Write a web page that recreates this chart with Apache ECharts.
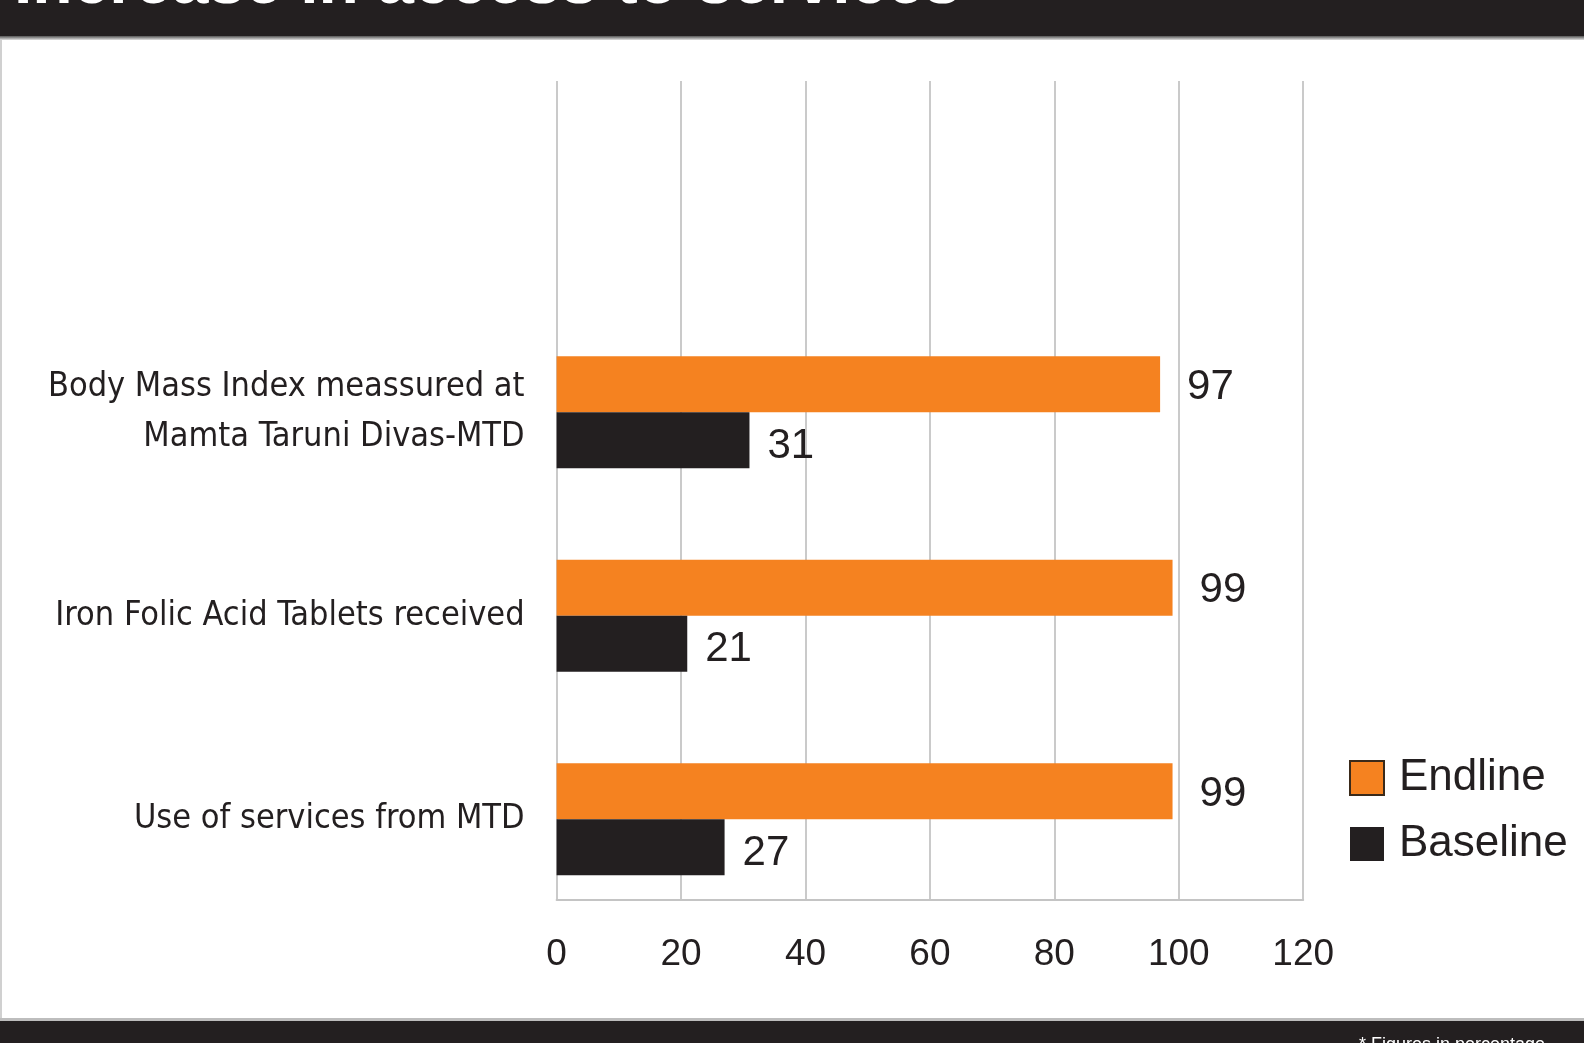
<!DOCTYPE html>
<html>
<head>
<meta charset="utf-8">
<script src="https://cdn.jsdelivr.net/npm/echarts@6/dist/echarts.min.js"></script>
<style>
html,body{margin:0;padding:0;background:#fff;}
#chart{width:1584px;height:1043px;}
</style>
</head>
<body>
<div id="chart"></div>
<script>
const categories = ['Body Mass Index meassured at\nMamta Taruni Divas-MTD', 'Iron Folic Acid Tablets received', 'Use of services from MTD'];
const endline = [97, 99, 99];
const baseline = [31, 21, 27];
const xTicks = { min: 0, max: 120, interval: 20 };
const titleText = 'Increase in access to services';
const noteText = '* Figures in percentage';

const DARK = '#231f20';
const ORANGE = '#f58220';
const narrow = "'Liberation Sans Narrow', 'DejaVu Sans Condensed', 'Arial Narrow', sans-serif";
const sans = "'Liberation Sans', Arial, Helvetica, sans-serif";

const chart = echarts.init(document.getElementById('chart'), null, { renderer: 'canvas' });
const gridL = 556.6, gridR = 1584 - 1303.2;

chart.setOption({
  backgroundColor: '#ffffff',
  animation: false,
  grid: [
    { left: gridL, right: gridR, top: 81, bottom: 143, containLabel: false, outerBoundsMode: 'none' },
    { left: gridL, right: gridR, top: 310.5, bottom: 122, containLabel: false, outerBoundsMode: 'none' }
  ],
  xAxis: [
    {
      gridIndex: 0, type: 'value', min: xTicks.min, max: xTicks.max, interval: xTicks.interval,
      axisLine: { show: true, lineStyle: { color: '#c4c4c4', width: 2 } },
      axisTick: { show: false },
      splitLine: { show: true, lineStyle: { color: '#cacaca', width: 2 } },
      axisLabel: { fontSize: 37, fontFamily: sans, color: DARK, margin: 36 }
    },
    { gridIndex: 1, type: 'value', min: xTicks.min, max: xTicks.max, show: false }
  ],
  yAxis: [
    { gridIndex: 0, type: 'value', show: false },
    {
      gridIndex: 1, type: 'category', data: categories, inverse: true,
      axisLine: { show: false }, axisTick: { show: false }, splitLine: { show: false },
      axisLabel: { fontSize: 34, fontFamily: narrow, color: DARK, margin: 32, align: 'right', lineHeight: 50, padding: [6, 0, 0, 0] }
    }
  ],
  legend: {
    orient: 'vertical', left: 1349, top: 756, padding: 0,
    itemWidth: 34, itemHeight: 34, itemGap: 22, icon: 'rect',
    data: [
      { name: 'Endline', itemStyle: { color: ORANGE, borderColor: '#3a2a1a', borderWidth: 2 } },
      { name: 'Baseline', itemStyle: { color: DARK } }
    ],
    textStyle: { fontSize: 44, fontFamily: sans, color: DARK, lineHeight: 34, padding: [0, 0, 0, 10] }
  },
  series: [
    {
      name: 'Endline', type: 'bar', xAxisIndex: 1, yAxisIndex: 1, data: endline,
      barWidth: 56, barGap: '0%',
      itemStyle: { color: ORANGE },
      label: { show: true, position: 'right', distance: 27, offset: [0, 3], fontSize: 42, fontFamily: sans, color: DARK }
    },
    {
      name: 'Baseline', type: 'bar', xAxisIndex: 1, yAxisIndex: 1, data: baseline,
      barWidth: 56, barGap: '0%',
      itemStyle: { color: DARK },
      label: { show: true, position: 'right', distance: 18, offset: [0, 6], fontSize: 42, fontFamily: sans, color: DARK }
    }
  ],
  graphic: [
    { type: 'rect', left: 0, top: 0, shape: { width: 1584, height: 36 }, style: { fill: DARK }, silent: true },
    { type: 'rect', left: 0, top: 36, shape: { width: 1584, height: 4 },
      style: { fill: new echarts.graphic.LinearGradient(0, 0, 0, 1, [{ offset: 0, color: '#555' }, { offset: 1, color: '#e0e0e0' }]) }, silent: true },
    { type: 'text', x: 14, y: 18, silent: true, z: 10,
      style: { text: titleText, fill: '#ffffff', fontSize: 66, fontWeight: 'bold', fontFamily: sans, verticalAlign: 'bottom', align: 'left' } },
    { type: 'rect', left: 0, top: 1018, shape: { width: 1584, height: 3 }, style: { fill: '#bdbdbd' }, silent: true },
    { type: 'rect', left: 0, top: 1021, shape: { width: 1584, height: 22 }, style: { fill: DARK }, silent: true },
    { type: 'text', x: 1359, y: 1036, silent: true,
      style: { text: noteText, fill: '#ffffff', fontSize: 18, fontFamily: sans, verticalAlign: 'top', align: 'left' } },
    { type: 'rect', left: 0, top: 40, shape: { width: 2, height: 978 }, style: { fill: '#d0d0d0' }, silent: true }
  ]
});
</script>
</body>
</html>
